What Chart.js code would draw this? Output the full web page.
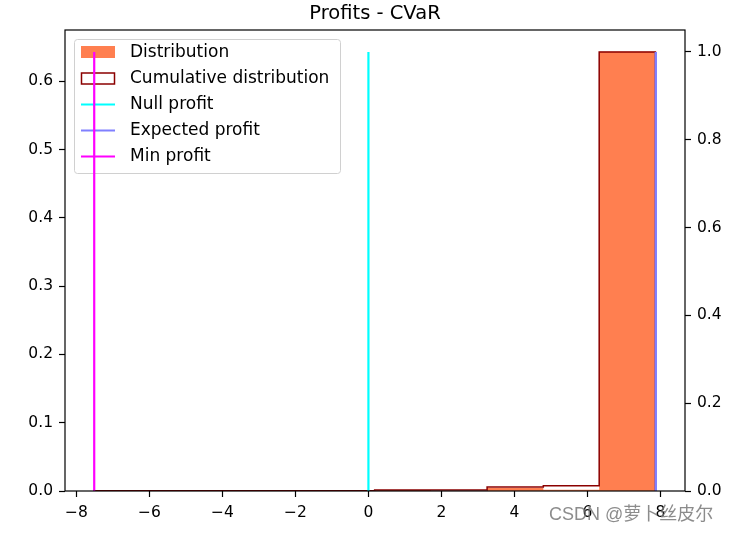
<!DOCTYPE html>
<html>
<head>
<meta charset="utf-8">
<title>Profits - CVaR</title>
<script src="https://cdn.jsdelivr.net/npm/chart.js@4"></script>
<style>
body { margin: 0; background: #fff; }
</style>
</head>
<body>
<canvas id="myChart" width="735" height="533"></canvas>
<script>
// histogram (10 bins)
let binEdges = [-7.51, -5.97, -4.44, -2.90, -1.36, 0.17, 1.71, 3.25, 4.79, 6.32, 7.86];
let density = [0.0002, 0, 0, 0, 0, 0.0013, 0, 0.0044, 0.0020, 0.643];
let cumulative = [0.0003, 0.0003, 0.0003, 0.0003, 0.0003, 0.0023, 0.0023, 0.009, 0.012, 1.0];

let nullProfit = 0;
let expectedProfit = 7.87;
let minProfit = -7.51;
let lineTop = 1.0;

let xTicks = [-8, -6, -4, -2, 0, 2, 4, 6, 8];
let yTicks = [0, 0.1, 0.2, 0.3, 0.4, 0.5, 0.6];
let y2Ticks = [0, 0.2, 0.4, 0.6, 0.8, 1.0];

let labels = ["Distribution", "Cumulative distribution", "Null profit", "Expected profit", "Min profit"];

const FONT = "'DejaVu Sans', sans-serif";

function steps(values){
	let pts = [{x: binEdges[0], y: 0}];
	values.forEach((v, i) => {
		pts.push({x: binEdges[i], y: v});
		pts.push({x: binEdges[i + 1], y: v});
	});
	pts.push({x: binEdges[binEdges.length - 1], y: 0});
	return pts;
}

function vline(x){
	return [{x: x, y: 0}, {x: x, y: lineTop}];
}

function minus(v){
	return v < 0 ? "\u2212" + Math.abs(v) : "" + v;
}

// legend box, frame and watermark
const extras = {
	id: "extras",
	beforeDatasetsDraw(chart){
		const ctx = chart.ctx;
		ctx.save();
		ctx.beginPath();
		ctx.roundRect(74.5, 39.5, 266, 134, 3);
		ctx.fillStyle = "rgba(255,255,255,0.8)";
		ctx.fill();
		ctx.strokeStyle = "#d0d0d0";
		ctx.lineWidth = 1;
		ctx.stroke();

		const rows = [52, 78.5, 104.5, 130.5, 156.5];
		const ds = chart.data.datasets;
		ctx.font = "17px " + FONT;
		ctx.textBaseline = "middle";
		ctx.textAlign = "left";
		rows.forEach((y, i) => {
			const d = ds[i];
			if(i === 0){
				ctx.fillStyle = d.backgroundColor;
				ctx.fillRect(81, y - 6, 34, 12);
			} else if(i === 1){
				ctx.fillStyle = "#fff";
				ctx.fillRect(81, y - 6, 34, 12);
				ctx.strokeStyle = d.borderColor;
				ctx.lineWidth = 1.5;
				ctx.strokeRect(81.5, y - 5.5, 33, 11);
			} else {
				ctx.strokeStyle = d.borderColor;
				ctx.lineWidth = 2.2;
				ctx.beginPath();
				ctx.moveTo(81, y);
				ctx.lineTo(115, y);
				ctx.stroke();
			}
			ctx.fillStyle = "#000";
			ctx.fillText(d.label, 130, y + 0.5);
		});
		ctx.restore();
	},
	afterDatasetsDraw(chart){
		const a = chart.chartArea;
		const ctx = chart.ctx;
		ctx.save();
		ctx.strokeStyle = "#000";
		ctx.lineWidth = 1.2;
		ctx.strokeRect(a.left, a.top, a.right - a.left, a.bottom - a.top);
		ctx.restore();
	},
	afterDraw(chart){
		const ctx = chart.ctx;
		ctx.save();
		ctx.font = "18px 'Liberation Sans', 'Noto Sans CJK SC', sans-serif";
		ctx.fillStyle = "rgba(120,120,120,0.85)";
		ctx.textBaseline = "middle";
		ctx.textAlign = "left";
		ctx.fillText("CSDN @萝卜丝皮尔", 549, 515);
		ctx.restore();
	}
};

function axisGrid(){
	return {
		display: true,
		drawOnChartArea: false,
		drawTicks: true,
		tickLength: 6,
		tickColor: "#000",
		tickWidth: 1.2
	};
}

function makeGraph(){
	new Chart("myChart", {
		data: {
			datasets: [{
				type: "line",
				label: labels[0],
				data: steps(density),
				yAxisID: "y",
				backgroundColor: "#FF7F50",
				borderColor: "#FF7F50",
				borderWidth: 0,
				fill: "origin",
				pointRadius: 0,
				order: 5
			}, {
				type: "line",
				label: labels[1],
				data: steps(cumulative),
				yAxisID: "y2",
				borderColor: "#8B0000",
				borderWidth: 1.5,
				fill: false,
				pointRadius: 0,
				order: 4
			}, {
				type: "line",
				label: labels[2],
				data: vline(nullProfit),
				yAxisID: "y2",
				borderColor: "#00FFFF",
				borderWidth: 2.2,
				pointRadius: 0,
				order: 3
			}, {
				type: "line",
				label: labels[3],
				data: vline(expectedProfit),
				yAxisID: "y2",
				borderColor: "#8080FF",
				borderWidth: 2.4,
				pointRadius: 0,
				order: 2
			}, {
				type: "line",
				label: labels[4],
				data: vline(minProfit),
				yAxisID: "y2",
				borderColor: "#FF00FF",
				borderWidth: 2.2,
				pointRadius: 0,
				order: 1
			}]
		},
		options: {
			responsive: false,
			animation: false,
			devicePixelRatio: 1,
			layout: { padding: 0 },
			plugins: {
				legend: { display: false },
				tooltip: { enabled: false },
				title: {
					display: true,
					text: "Profits - CVaR",
					fullSize: false,
					color: "#000",
					font: { family: FONT, size: 19.5, weight: "normal" },
					padding: { top: 2, bottom: 4.6 }
				}
			},
			scales: {
				x: {
					type: "linear",
					min: -8.31,
					max: 8.67,
					border: { display: false },
					grid: axisGrid(),
					afterBuildTicks: s => { s.ticks = xTicks.map(v => ({value: v})); },
					afterFit: s => { s.height = 42; },
					ticks: {
						color: "#000",
						font: { family: FONT, size: 15.5 },
						padding: 7,
						maxRotation: 0,
						callback: v => minus(v)
					}
				},
				y: {
					type: "linear",
					position: "left",
					min: 0,
					max: 0.675,
					border: { display: false },
					grid: axisGrid(),
					afterBuildTicks: s => { s.ticks = yTicks.map(v => ({value: v})); },
					afterFit: s => { s.width = 65; },
					ticks: {
						color: "#000",
						font: { family: FONT, size: 15.5 },
						padding: 6,
						callback: v => v.toFixed(1)
					}
				},
				y2: {
					type: "linear",
					position: "right",
					min: 0,
					max: 1.05,
					border: { display: false },
					grid: axisGrid(),
					afterBuildTicks: s => { s.ticks = y2Ticks.map(v => ({value: v})); },
					afterFit: s => { s.width = 50; },
					ticks: {
						color: "#000",
						font: { family: FONT, size: 15.5 },
						padding: 6,
						callback: v => v.toFixed(1)
					}
				}
			}
		},
		plugins: [extras]
	});
}

makeGraph();
</script>
</body>
</html>
